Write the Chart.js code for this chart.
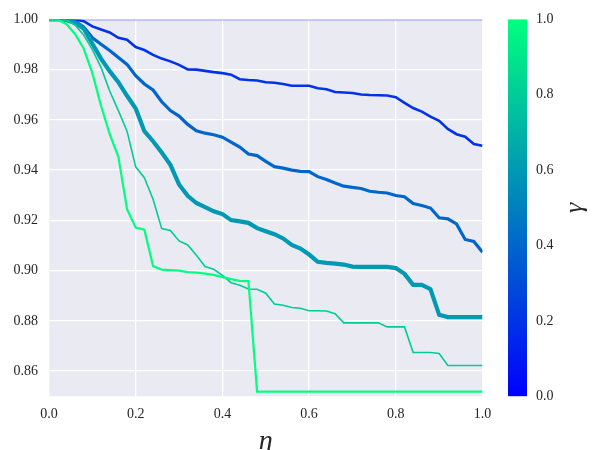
<!DOCTYPE html>
<html><head><meta charset="utf-8">
<script src="https://cdn.jsdelivr.net/npm/chart.js@4.4.1/dist/chart.umd.min.js"></script>
<style>html,body{margin:0;padding:0;background:#fff;}#wrap{width:593px;height:450px;position:relative;}</style>
</head><body><div id="wrap"><canvas id="c"></canvas></div>
<script>
// ---- data ----
const eta = [0,0.02,0.04,0.06,0.08,0.10,0.12,0.14,0.16,0.18,0.20,0.22,0.24,0.26,0.28,0.30,0.32,0.34,0.36,0.38,0.40,0.42,0.44,0.46,0.48,0.50,0.52,0.54,0.56,0.58,0.60,0.62,0.64,0.66,0.68,0.70,0.72,0.74,0.76,0.78,0.80,0.82,0.84,0.86,0.88,0.90,0.92,0.94,0.96,0.98,1.00];
const gammas = [0, 0.2, 0.4, 0.6, 0.8, 1.0];
const g00 = [1,1,1,1,1,1,1,1,1,1,1,1,1,1,1,1,1,1,1,1,1,1,1,1,1,1,1,1,1,1,1,1,1,1,1,1,1,1,1,1,1,1,1,1,1,1,1,1,1,1,1];
const g02 = [1.0,1.0,1.0,1.0,0.9993,0.9972,0.9960,0.9948,0.9927,0.9919,0.9890,0.9878,0.9859,0.9844,0.9833,0.9819,0.9801,0.9800,0.9795,0.9790,0.9786,0.9780,0.9762,0.9759,0.9757,0.9750,0.9748,0.9743,0.9736,0.9736,0.9736,0.9726,0.9722,0.9711,0.9709,0.9707,0.9701,0.9699,0.9698,0.9697,0.9690,0.9668,0.9647,0.9633,0.9613,0.9596,0.9564,0.9543,0.9533,0.9504,0.9497];
const g04 = [1.0,1.0,0.9998,0.9993,0.9970,0.9927,0.9901,0.9876,0.9848,0.9821,0.9776,0.9743,0.9719,0.9672,0.9637,0.9615,0.9582,0.9557,0.9547,0.9541,0.9531,0.9511,0.9492,0.9464,0.9458,0.9435,0.9414,0.9408,0.9400,0.9395,0.9394,0.9374,0.9363,0.9349,0.9336,0.9331,0.9327,0.9316,0.9312,0.9309,0.9299,0.9294,0.9267,0.9259,0.9249,0.9210,0.9206,0.9186,0.9124,0.9116,0.9073];
const g06 = [1.0,1.0,0.9998,0.9986,0.9964,0.9903,0.9844,0.9794,0.9750,0.9696,0.9645,0.9555,0.9515,0.9470,0.9421,0.9343,0.9298,0.9269,0.9253,0.9236,0.9225,0.9201,0.9196,0.9190,0.9169,0.9157,0.9145,0.9128,0.9102,0.9088,0.9064,0.9035,0.9031,0.9028,0.9024,0.9016,0.9015,0.9015,0.9015,0.9015,0.9010,0.8987,0.8943,0.8943,0.8926,0.8824,0.8815,0.8815,0.8815,0.8815,0.8815];
const g08 = [1.0,1.0,0.9997,0.9978,0.9938,0.9880,0.9809,0.9715,0.9637,0.9555,0.9413,0.9370,0.9284,0.9167,0.9160,0.9118,0.9102,0.9061,0.9016,0.9005,0.8981,0.8952,0.8942,0.8927,0.8926,0.8910,0.8867,0.8862,0.8853,0.8850,0.8840,0.8840,0.8839,0.8828,0.8792,0.8792,0.8792,0.8792,0.8792,0.8776,0.8776,0.8776,0.8674,0.8674,0.8674,0.8670,0.8622,0.8622,0.8622,0.8622,0.8622];
const g10 = [1.0,0.9999,0.9982,0.9942,0.9884,0.9786,0.9656,0.9543,0.9453,0.9245,0.9171,0.9163,0.9018,0.9004,0.9002,0.9000,0.8994,0.8992,0.8988,0.8983,0.8974,0.8966,0.8959,0.8958,0.8518,0.8518,0.8518,0.8518,0.8518,0.8518,0.8518,0.8518,0.8518,0.8518,0.8518,0.8518,0.8518,0.8518,0.8518,0.8518,0.8518,0.8518,0.8518,0.8518,0.8518,0.8518,0.8518,0.8518,0.8518,0.8518,0.8518];
const xTicks = [0.0, 0.2, 0.4, 0.6, 0.8, 1.0];
const yTicks = [0.86, 0.88, 0.90, 0.92, 0.94, 0.96, 0.98, 1.00];
const cbTicks = [0.0, 0.2, 0.4, 0.6, 0.8, 1.0];

// ---- styles ----
const series = [g00, g02, g04, g06, g08, g10];
const widths = [2, 2.6, 3.2, 4.2, 1.6, 2.2];
function winter(g){ return 'rgb(0,' + Math.round(255*g) + ',' + Math.round(255*(1-g/2)) + ')'; }
const lineColors = gammas.map((g,i) => i === 0 ? '#9494fb' : winter(g));

const tickFont = {family: "'Liberation Serif', serif", size: 14};
const textColor = '#262626';

const datasets = series.map((s, i) => ({
  label: 'γ=' + gammas[i],
  data: eta.map((x, j) => ({x: x, y: s[j]})),
  borderColor: lineColors[i],
  borderWidth: widths[i],
  pointRadius: 0,
  tension: 0,
  fill: false,
  order: series.length - i
}));

const bgPlugin = {
  id: 'bg',
  beforeDraw(chart) {
    const {ctx, chartArea: a} = chart;
    ctx.save();
    ctx.fillStyle = '#eaeaf2';
    ctx.fillRect(a.left, a.top, a.right - a.left, a.bottom - a.top);
    ctx.restore();
  },
  afterDraw(chart) {
    const {ctx, chartArea: a} = chart;
    const x0 = 508, w = 19;
    const top = a.top, bot = a.bottom;
    ctx.save();
    const grad = ctx.createLinearGradient(0, bot, 0, top);
    for (let k = 0; k <= 10; k++) grad.addColorStop(k/10, winter(k/10));
    ctx.fillStyle = grad;
    ctx.fillRect(x0, top, w, bot - top);
    ctx.fillStyle = textColor;
    ctx.font = tickFont.size + 'px ' + tickFont.family;
    ctx.textAlign = 'left';
    ctx.textBaseline = 'middle';
    cbTicks.forEach(t => {
      ctx.fillText(t.toFixed(1), 536, bot - t*(bot - top));
    });
    ctx.translate(575, (top + bot)/2);
    ctx.rotate(-Math.PI/2);
    ctx.font = "italic 26px 'Liberation Serif', serif";
    ctx.textAlign = 'center';
    ctx.textBaseline = 'middle';
    ctx.fillText('γ', 0, 0);
    ctx.restore();
  }
};

new Chart(document.getElementById('c'), {
  type: 'line',
  data: {datasets},
  options: {
    responsive: true,
    maintainAspectRatio: false,
    animation: false,
    layout: {padding: {left: 0, top: 13.3, right: 110.5, bottom: 0}},
    plugins: {legend: {display: false}, tooltip: {enabled: false}},
    scales: {
      x: {
        type: 'linear', min: 0, max: 1,
        afterBuildTicks: s => { s.ticks = xTicks.map(v => ({value: v})); },
        afterFit: s => { s.height = 53.8; },
        ticks: {callback: v => v.toFixed(1), font: tickFont, color: textColor, padding: 10, maxRotation: 0, autoSkip: false},
        grid: {color: '#ffffff', lineWidth: 1.3, drawTicks: false},
        border: {display: false},
        title: {display: true, text: 'η', font: {family: "'Liberation Serif', serif", size: 28, style: 'italic', lineHeight: 0.6}, color: textColor, padding: 0}
      },
      y: {
        type: 'linear', min: 0.85, max: 1.0,
        afterBuildTicks: s => { s.ticks = yTicks.map(v => ({value: v})); },
        afterFit: s => { s.width = 49; },
        ticks: {callback: v => v.toFixed(2), font: tickFont, color: textColor, padding: 11, autoSkip: false},
        grid: {color: '#ffffff', lineWidth: 1.3, drawTicks: false},
        border: {display: false}
      }
    }
  },
  plugins: [bgPlugin]
});
</script></body></html>
